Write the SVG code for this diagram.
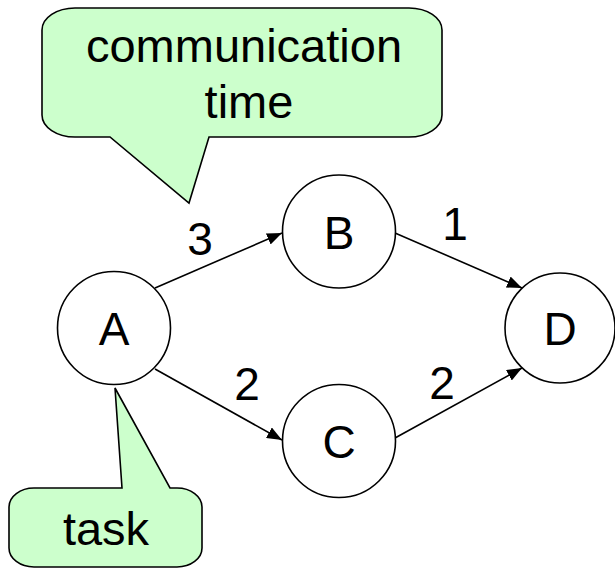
<svg xmlns="http://www.w3.org/2000/svg" width="615" height="568" viewBox="0 0 615 568">
  <defs>
    <marker id="arrow" markerUnits="userSpaceOnUse" markerWidth="16" markerHeight="12" refX="15" refY="6" orient="auto">
      <path d="M0,0 L15,6 L0,12 Z" fill="#000"/>
    </marker>
    <style>
      .node circle { fill: #fff; stroke: #000; stroke-width: 1.6; }
      .lbl { font-family: "Liberation Sans", Arial, sans-serif; font-size: 46px; fill: #000; text-anchor: middle; }
      .call { fill: #ccffcc; stroke: #000; stroke-width: 1.6; stroke-linejoin: miter; }
      .edge { stroke: #000; stroke-width: 1.6; fill: none; marker-end: url(#arrow); }
    </style>
  </defs>
  <rect width="615" height="568" fill="#fff"/>

  <g id="connectors">
    <line class="edge" x1="155" y1="288" x2="282" y2="233"/>
    <line class="edge" x1="155" y1="369" x2="282" y2="440"/>
    <line class="edge" x1="395" y1="233" x2="522" y2="288"/>
    <line class="edge" x1="395" y1="438" x2="522" y2="368"/>
    <text class="lbl" x="200" y="255">3</text>
    <text class="lbl" x="247" y="400">2</text>
    <text class="lbl" x="455" y="240">1</text>
    <text class="lbl" x="442" y="399">2</text>
  </g>

  <g id="A" class="node">
    <circle cx="114" cy="328" r="56.5"/>
    <text class="lbl" x="114" y="345">A</text>
  </g>
  <g id="B" class="node">
    <circle cx="339" cy="231.5" r="56.5"/>
    <text class="lbl" x="339" y="249">B</text>
  </g>
  <g id="C" class="node">
    <circle cx="339" cy="441" r="56.5"/>
    <text class="lbl" x="339" y="458">C</text>
  </g>
  <g id="D" class="node">
    <circle cx="560" cy="328" r="55"/>
    <text class="lbl" x="560" y="345">D</text>
  </g>

  <g id="callout-comm">
    <path class="call" d="M75,8 H409 A33 22 0 0 1 442 30 V115 A33 22 0 0 1 409 137 H209 L189,203 L110,137 H75 A33 22 0 0 1 42 115 V30 A33 22 0 0 1 75 8 Z"/>
    <text class="lbl" x="244" y="62" style="font-size:47px">communication</text>
    <text class="lbl" x="249" y="118" style="font-size:47px">time</text>
  </g>

  <g id="callout-task">
    <path class="call" d="M34,488 H122 L115,388 L170,488 H177 A25 19 0 0 1 202 507 V548 A25 19 0 0 1 177 567 H34 A25 19 0 0 1 9 548 V507 A25 19 0 0 1 34 488 Z"/>
    <text class="lbl" x="106" y="545" style="font-size:47px">task</text>
  </g>
</svg>
